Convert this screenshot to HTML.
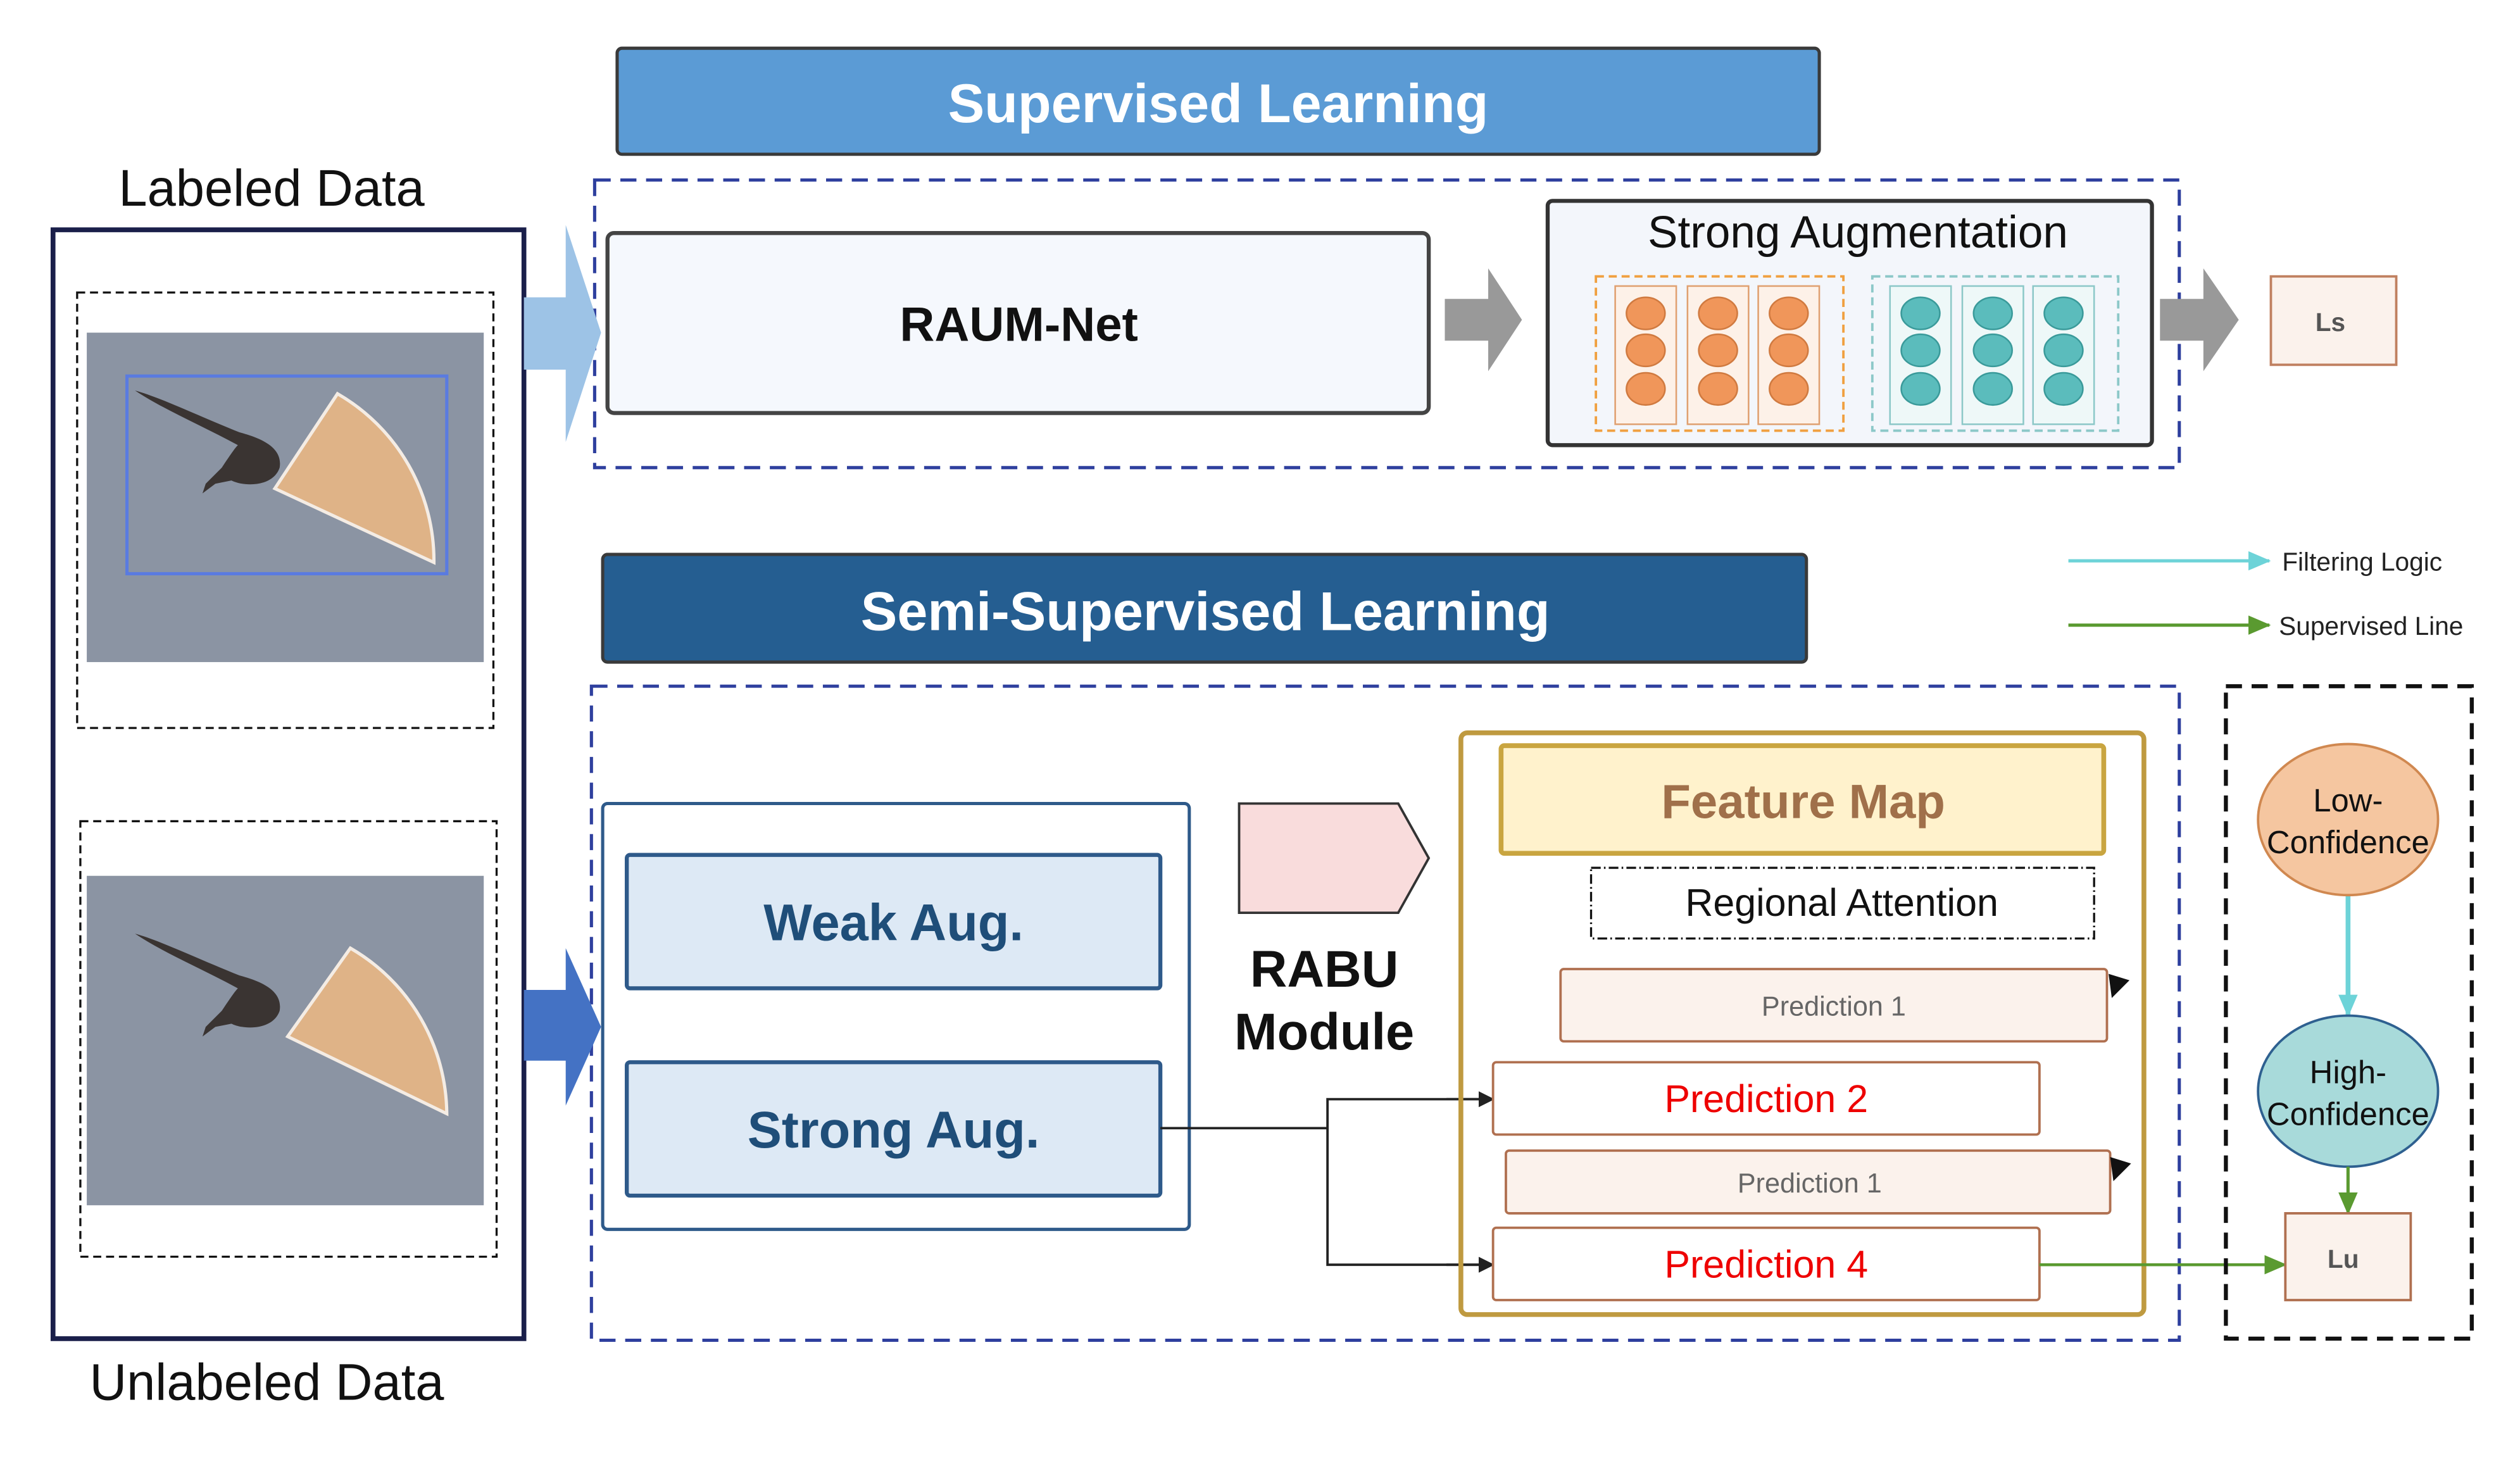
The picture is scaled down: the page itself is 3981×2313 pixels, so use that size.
<!DOCTYPE html>
<html><head><meta charset="utf-8"><style>
html,body{margin:0;padding:0;background:#fff;}
svg{display:block;}
text{font-family:"Liberation Sans",sans-serif;}
</style></head><body>
<svg width="3981" height="2313" viewBox="0 0 1568 911" preserveAspectRatio="none" xmlns="http://www.w3.org/2000/svg">
<defs>
<marker id="ab" markerWidth="10" markerHeight="10" refX="9" refY="5" orient="auto" markerUnits="userSpaceOnUse"><path d="M0,0 L10,5 L0,10z" fill="#222"/></marker>
<marker id="ag" markerWidth="14" markerHeight="12" refX="13" refY="6" orient="auto" markerUnits="userSpaceOnUse"><path d="M0,0 L14,6 L0,12z" fill="#5a9a30"/></marker>
<marker id="ac" markerWidth="14" markerHeight="12" refX="13" refY="6" orient="auto" markerUnits="userSpaceOnUse"><path d="M0,0 L14,6 L0,12z" fill="#6dd3d8"/></marker>
</defs>

<!-- Supervised header -->
<rect x="384" y="30" width="748" height="66" rx="3" fill="#5b9bd5" stroke="#3a3a3a" stroke-width="2"/>
<text x="758" y="76" font-size="34" font-weight="bold" fill="#fff" text-anchor="middle">Supervised Learning</text>
<rect x="370" y="112" width="986" height="179" fill="none" stroke="#2e3f9e" stroke-width="2" stroke-dasharray="10,6"/>
<rect x="378" y="145" width="511" height="112" rx="4" fill="#f5f8fd" stroke="#444" stroke-width="2.5"/>
<text x="634" y="212" font-size="30" font-weight="bold" fill="#111" text-anchor="middle">RAUM-Net</text>
<path d="M899,186 L926,186 L926,167 L947,199 L926,231 L926,212 L899,212z" fill="#999"/>
<rect x="963" y="125" width="376" height="152" rx="3" fill="#f3f6fb" stroke="#333" stroke-width="2.5"/>
<text x="1156" y="154" font-size="28" fill="#111" text-anchor="middle">Strong Augmentation</text>
<rect x="993" y="172" width="154" height="96" fill="none" stroke="#f0a040" stroke-width="1.5" stroke-dasharray="5,3"/>
<g fill="#fdf1e8" stroke="#e0a070" stroke-width="1">
<rect x="1005" y="178" width="38" height="86"/><rect x="1050" y="178" width="38" height="86"/><rect x="1094" y="178" width="38" height="86"/></g>
<g fill="#f0965a" stroke="#d07a40" stroke-width="1">
<ellipse cx="1024" cy="195" rx="12" ry="10"/><ellipse cx="1024" cy="218" rx="12" ry="10"/><ellipse cx="1024" cy="242" rx="12" ry="10"/>
<ellipse cx="1069" cy="195" rx="12" ry="10"/><ellipse cx="1069" cy="218" rx="12" ry="10"/><ellipse cx="1069" cy="242" rx="12" ry="10"/>
<ellipse cx="1113" cy="195" rx="12" ry="10"/><ellipse cx="1113" cy="218" rx="12" ry="10"/><ellipse cx="1113" cy="242" rx="12" ry="10"/></g>
<rect x="1165" y="172" width="153" height="96" fill="none" stroke="#8cc8c8" stroke-width="1.5" stroke-dasharray="5,3"/>
<g fill="#eef8f8" stroke="#8cc8c8" stroke-width="1">
<rect x="1176" y="178" width="38" height="86"/><rect x="1221" y="178" width="38" height="86"/><rect x="1265" y="178" width="38" height="86"/></g>
<g fill="#5bbcbc" stroke="#3a9a9a" stroke-width="1">
<ellipse cx="1195" cy="195" rx="12" ry="10"/><ellipse cx="1195" cy="218" rx="12" ry="10"/><ellipse cx="1195" cy="242" rx="12" ry="10"/>
<ellipse cx="1240" cy="195" rx="12" ry="10"/><ellipse cx="1240" cy="218" rx="12" ry="10"/><ellipse cx="1240" cy="242" rx="12" ry="10"/>
<ellipse cx="1284" cy="195" rx="12" ry="10"/><ellipse cx="1284" cy="218" rx="12" ry="10"/><ellipse cx="1284" cy="242" rx="12" ry="10"/></g>
<path d="M1344,186 L1371,186 L1371,167 L1393,199 L1371,231 L1371,212 L1344,212z" fill="#999"/>
<rect x="1413" y="172" width="78" height="55" fill="#fbf2ec" stroke="#c08060" stroke-width="1.5"/>
<text x="1450" y="206" font-size="16" font-weight="bold" fill="#555" text-anchor="middle">Ls</text>

<!-- legend -->
<line x1="1287" y1="349" x2="1412" y2="349" stroke="#6dd3d8" stroke-width="2" marker-end="url(#ac)"/>
<text x="1420" y="355" font-size="16" fill="#222">Filtering Logic</text>
<line x1="1287" y1="389" x2="1412" y2="389" stroke="#5a9a30" stroke-width="2" marker-end="url(#ag)"/>
<text x="1418" y="395" font-size="16" fill="#222">Supervised Line</text>

<!-- Semi header -->
<rect x="375" y="345" width="749" height="67" rx="3" fill="#255e91" stroke="#3a3a3a" stroke-width="2"/>
<text x="750" y="392" font-size="34" font-weight="bold" fill="#fff" text-anchor="middle">Semi-Supervised Learning</text>
<rect x="368" y="427" width="988" height="407" fill="none" stroke="#2e3f9e" stroke-width="2" stroke-dasharray="10,6"/>

<!-- left panel -->
<text x="169" y="128" font-size="32" fill="#111" text-anchor="middle">Labeled Data</text>
<text x="166" y="871" font-size="32" fill="#111" text-anchor="middle">Unlabeled Data</text>
<rect x="33" y="143" width="293" height="690" fill="#fff" stroke="#1a1f4a" stroke-width="3"/>
<rect x="48" y="182" width="259" height="271" fill="none" stroke="#111" stroke-width="1.3" stroke-dasharray="5,3"/>
<rect x="50" y="511" width="259" height="271" fill="none" stroke="#111" stroke-width="1.3" stroke-dasharray="5,3"/>

<g transform="translate(54,207)">
<rect width="247" height="205" fill="#8b94a3"/>
<path d="M30,36 C45,40 70,52 95,62 C110,66 122,72 120,84 C116,96 98,96 90,92 L80,94 L72,100 L74,94 L84,84 C88,78 92,72 94,70 C72,58 48,48 30,36z" fill="#3a3432"/>
<path d="M117,97 L156,38 A120,120 0 0 1 216,143 Z" fill="#e8b684" fill-opacity="0.9" stroke="#f4ece4" stroke-width="2"/>
<rect x="25" y="27" width="199" height="123" fill="none" stroke="#5a7be0" stroke-width="2"/>
</g>
<g transform="translate(54,545)">
<rect width="247" height="205" fill="#8b94a3"/>
<path d="M30,36 C45,40 70,52 95,62 C110,66 122,72 120,84 C116,96 98,96 90,92 L80,94 L72,100 L74,94 L84,84 C88,78 92,72 94,70 C72,58 48,48 30,36z" fill="#3a3432"/>
<path d="M125,100 L164,45 A120,120 0 0 1 224,148 Z" fill="#e8b684" fill-opacity="0.9" stroke="#f4ece4" stroke-width="2"/>
</g>

<!-- big arrows -->
<path d="M326,185 L352,185 L352,140 L374,207 L352,275 L352,230 L326,230z" fill="#9dc3e6"/>
<path d="M326,616 L352,616 L352,590 L374,639 L352,688 L352,660 L326,660z" fill="#4472c4"/>

<!-- aug group -->
<rect x="375" y="500" width="365" height="265" rx="3" fill="#fff" stroke="#2e5a8a" stroke-width="2"/>
<rect x="390" y="532" width="332" height="83" rx="2" fill="#dde9f5" stroke="#2e5a8a" stroke-width="2.5"/>
<text x="556" y="585" font-size="32" font-weight="bold" fill="#1f4e79" text-anchor="middle">Weak Aug.</text>
<rect x="390" y="661" width="332" height="83" rx="2" fill="#dde9f5" stroke="#2e5a8a" stroke-width="2.5"/>
<text x="556" y="714" font-size="32" font-weight="bold" fill="#1f4e79" text-anchor="middle">Strong Aug.</text>

<!-- RABU -->
<path d="M771,500 L870,500 L889,534 L870,568 L771,568z" fill="#f9dcdc" stroke="#333" stroke-width="1.5"/>
<text x="824" y="614" font-size="32" font-weight="bold" fill="#111" text-anchor="middle">RABU</text>
<text x="824" y="653" font-size="32" font-weight="bold" fill="#111" text-anchor="middle">Module</text>

<!-- connectors -->
<polyline points="722,702 826,702" fill="none" stroke="#222" stroke-width="1.5"/>
<polyline points="929,684 826,684 826,787 929,787" fill="none" stroke="#222" stroke-width="1.5"/>
<line x1="900" y1="684" x2="929" y2="684" stroke="#222" stroke-width="1.5" marker-end="url(#ab)"/>
<line x1="900" y1="787" x2="929" y2="787" stroke="#222" stroke-width="1.5" marker-end="url(#ab)"/>

<!-- gold box -->
<rect x="909" y="456" width="425" height="362" rx="4" fill="none" stroke="#bf9a40" stroke-width="3"/>
<rect x="934" y="464" width="375" height="67" rx="2" fill="#fff2cc" stroke="#c9a540" stroke-width="3"/>
<text x="1122" y="509" font-size="30" font-weight="bold" fill="#a0704a" text-anchor="middle">Feature Map</text>
<rect x="990" y="540" width="313" height="44" fill="none" stroke="#111" stroke-width="1.3" stroke-dasharray="6,2,1,2"/>
<text x="1146" y="570" font-size="24" fill="#111" text-anchor="middle">Regional Attention</text>
<rect x="971" y="603" width="340" height="45" rx="2" fill="#fbf2ec" stroke="#b07050" stroke-width="1.5"/>
<text x="1141" y="632" font-size="17" fill="#666" text-anchor="middle">Prediction 1</text>
<path d="M1312,606 L1325,610 L1314,621z" fill="#111"/>
<rect x="929" y="661" width="340" height="45" rx="2" fill="#fff" stroke="#b07050" stroke-width="1.5"/>
<text x="1099" y="692" font-size="24" fill="#e00" text-anchor="middle">Prediction 2</text>
<rect x="937" y="716" width="376" height="39" rx="2" fill="#fbf2ec" stroke="#b07050" stroke-width="1.5"/>
<text x="1126" y="742" font-size="17" fill="#666" text-anchor="middle">Prediction 1</text>
<path d="M1313,720 L1326,724 L1315,735z" fill="#111"/>
<rect x="929" y="764" width="340" height="45" rx="2" fill="#fff" stroke="#b07050" stroke-width="1.5"/>
<text x="1099" y="795" font-size="24" fill="#e00" text-anchor="middle">Prediction 4</text>
<line x1="1269" y1="787" x2="1422" y2="787" stroke="#5a9a30" stroke-width="1.8" marker-end="url(#ag)"/>

<!-- right panel -->
<rect x="1385" y="427" width="153" height="406" fill="none" stroke="#111" stroke-width="2.5" stroke-dasharray="10,6"/>
<line x1="1461" y1="557" x2="1461" y2="632" stroke="#6dd3d8" stroke-width="3" marker-end="url(#ac)"/>
<ellipse cx="1461" cy="510" rx="56" ry="47" fill="#f5c6a0" stroke="#d08850" stroke-width="1.5"/>
<text x="1461" y="505" font-size="20" fill="#111" text-anchor="middle">Low-</text>
<text x="1461" y="531" font-size="20" fill="#111" text-anchor="middle">Confidence</text>
<ellipse cx="1461" cy="679" rx="56" ry="47" fill="#a8dada" stroke="#2e6090" stroke-width="1.5"/>
<text x="1461" y="674" font-size="20" fill="#111" text-anchor="middle">High-</text>
<text x="1461" y="700" font-size="20" fill="#111" text-anchor="middle">Confidence</text>
<line x1="1461" y1="726" x2="1461" y2="755" stroke="#5a9a30" stroke-width="2" marker-end="url(#ag)"/>
<rect x="1422" y="755" width="78" height="54" fill="#fbf2ec" stroke="#b07050" stroke-width="1.5"/>
<text x="1458" y="789" font-size="16" font-weight="bold" fill="#555" text-anchor="middle">Lu</text>
</svg>
</body></html>
